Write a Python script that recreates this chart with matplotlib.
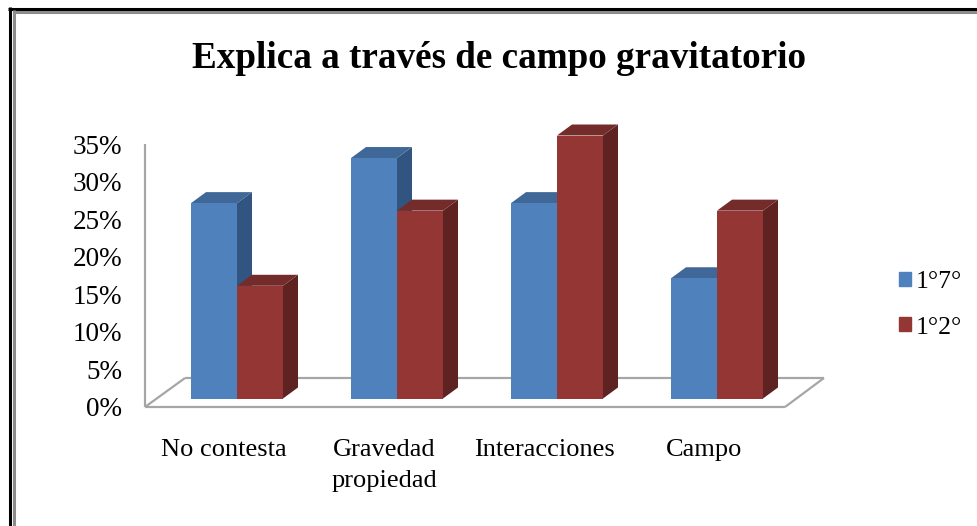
import matplotlib
matplotlib.use('Agg')
import matplotlib.pyplot as plt
from matplotlib.lines import Line2D
from matplotlib.patches import Patch
from matplotlib.transforms import Affine2D

# data ===========================================================
categories = ['No contesta', 'Gravedad\npropiedad', 'Interacciones', 'Campo']
series_names = ['1°7°', '1°2°']
values_17 = [26, 32, 26, 16]
values_12 = [15, 25, 35, 25]
y_ticks = [0, 5, 10, 15, 20, 25, 30, 35]
# ================================================================

BLUE = ('#4F81BD', '#3F6797', '#325480')
RED = ('#943634', '#742C2A', '#5E2321')
GRAY = '#A6A6A6'
W, H = 978, 526
BAR_W = 46 / 160   # bar width in category units
LABEL_SHIFT = -13 / 160   # category labels sit left of the group centre
BAR_LIFT = 8.5   # pixels between the floor front edge and the bar bottom
DEPTH_X, DEPTH_Y = 15, 11   # pixels
FLOOR_X, FLOOR_Y = 40, 29   # pixels

plt.rcParams['font.family'] = ['Liberation Serif', 'DejaVu Serif']

fig = plt.figure(figsize=(W / 100, H / 100), dpi=100)
ax = fig.add_axes([145 / W, 1 - 407 / H, 640 / W, 263 / H])
ax.set_xlim(-0.575, 3.425)
ax.set_ylim(0, 35)
ax.patch.set_visible(False)
for s in ax.spines.values():
    s.set_visible(False)


def draw_bar(x0, val, colors):
    """front face with ax.bar, top and side faces shifted by the depth in pixels"""
    base = ax.transData + Affine2D().translate(0, BAR_LIFT)
    back = ax.transData + Affine2D().translate(DEPTH_X, BAR_LIFT + DEPTH_Y)
    x1 = x0 + BAR_W
    ax.bar(x0, val, BAR_W, align='edge', color=colors[0], transform=base, zorder=3, clip_on=False)
    # side face
    pts_front = base.transform([(x1, val), (x1, 0)])
    pts_back = back.transform([(x1, 0), (x1, val)])
    to_data = ax.transData.inverted()
    side = to_data.transform(list(pts_front) + list(pts_back))
    ax.fill(side[:, 0], side[:, 1], color=colors[2], lw=0, zorder=2, clip_on=False)
    # top face
    pts_front = base.transform([(x0, val), (x1, val)])
    pts_back = back.transform([(x1, val), (x0, val)])
    top = to_data.transform(list(pts_front) + list(pts_back))
    ax.fill(top[:, 0], top[:, 1], color=colors[1], lw=0, zorder=2, clip_on=False)


# right hand groups overlap the left ones, so draw the red bar after the blue one
for i in range(len(categories)):
    draw_bar(i - BAR_W, values_17[i], BLUE)
    draw_bar(i, values_12[i], RED)


# floor, wall and border, in figure pixels
def px_line(xs, ys, color=GRAY, lw=1.6):
    fig.add_artist(Line2D([x / W for x in xs], [1 - y / H for y in ys], color=color, lw=lw,
                          solid_capstyle='butt', zorder=-1))


px_line([145, 145], [144, 407])
px_line([145, 785], [407, 407])
px_line([145, 145 + FLOOR_X], [407, 407 - FLOOR_Y])
px_line([145 + FLOOR_X, 785 + FLOOR_X - 1], [378, 378])
px_line([785, 785 + FLOOR_X - 1], [407, 378])

ax.set_yticks(y_ticks)
ax.set_yticklabels([f'{t}%' for t in y_ticks], fontsize=19.5)
ax.tick_params(axis='y', length=0, pad=16.5)
ax.set_xticks([i + LABEL_SHIFT for i in range(len(categories))])
ax.set_xticklabels(categories, fontsize=19, linespacing=1.55, va='top')
ax.tick_params(axis='x', length=0, pad=23)

fig.text(499 / W, 1 - 59 / H, 'Explica a través de campo gravitatorio', fontsize=26.7, fontweight='bold',
         ha='center', va='center')

# legend
handles = [Patch(color=BLUE[0]), Patch(color=RED[0])]
fig.legend(handles, series_names, loc='center left', bbox_to_anchor=(891 / W, 1 - 305 / H), frameon=False,
           fontsize=18.5, handlelength=0.47, handleheight=0.47, handletextpad=0.2, labelspacing=0.9,
           borderpad=0.3, borderaxespad=0)

# picture border
px_line([8, 978], [8.5, 8.5], color='black', lw=2.2)
px_line([9.5, 9.5], [7, 526], color='black', lw=2.2)
px_line([13, 978], [11.5, 11.5], color='#8C8C8C', lw=2.2)
px_line([14.5, 14.5], [10, 526], color='#8C8C8C', lw=2.2)

fig.savefig('out.png', dpi=100)
